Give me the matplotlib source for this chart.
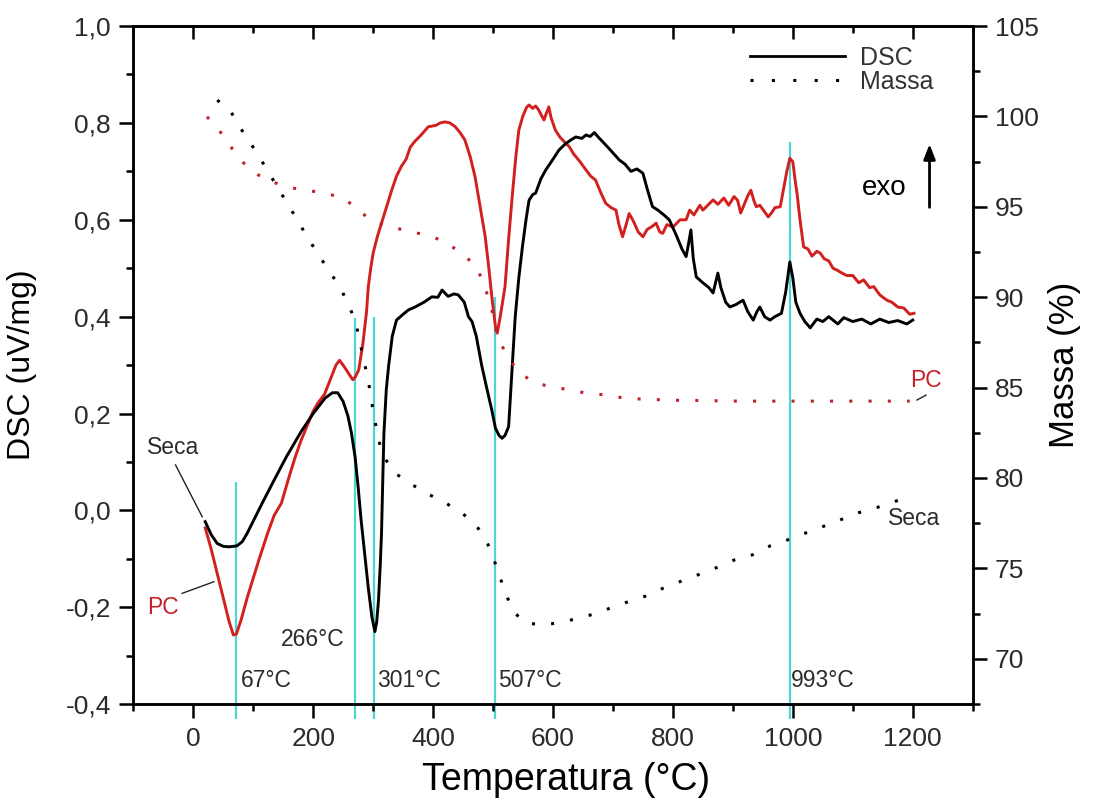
import matplotlib
matplotlib.use("Agg")
import matplotlib.pyplot as plt
from matplotlib.lines import Line2D
from matplotlib.ticker import MultipleLocator, FuncFormatter

plt.rcParams['font.family'] = ['Liberation Sans', 'DejaVu Sans']

# ---------------- data ----------------
seca_dsc_T = [20, 30, 40, 50, 60, 73, 82, 90, 100, 115, 135, 155, 180, 200, 220, 232, 241, 250, 258, 264,
              270, 275, 280, 286, 292, 298, 303, 306, 309, 312, 314, 316, 318, 322, 326, 332, 339, 350, 359,
              370, 385, 398, 408, 415, 425, 435, 442, 452, 459, 465, 472, 481, 490, 498, 504, 510, 515, 520,
              526, 532, 537, 543, 549, 555, 560, 566, 571, 580, 588, 600, 610, 620, 630, 638, 648, 655, 662,
              669, 676, 683, 695, 711, 720, 730, 740, 750, 758, 766, 775, 785, 794, 805, 815, 822, 826, 830,
              834, 839, 850, 860, 867, 875, 880, 888, 895, 905, 917, 925, 934, 940, 945, 953, 962, 970, 981,
              988, 995, 1000, 1005, 1012, 1020, 1029, 1040, 1050, 1060, 1075, 1085, 1100, 1115, 1130, 1145,
              1160, 1175, 1190, 1200]
seca_dsc_v = [-0.023, -0.05, -0.068, -0.074, -0.075, -0.073, -0.064, -0.047, -0.022, 0.015, 0.063, 0.11,
              0.163, 0.2, 0.232, 0.243, 0.243, 0.225, 0.195, 0.159, 0.11, 0.049, -0.02, -0.089, -0.16, -0.22,
              -0.25, -0.23, -0.185, -0.11, -0.047, 0.06, 0.159, 0.25, 0.3, 0.36, 0.393, 0.405, 0.414, 0.42,
              0.43, 0.441, 0.44, 0.455, 0.442, 0.447, 0.445, 0.43, 0.40, 0.39, 0.36, 0.30, 0.25, 0.207, 0.17,
              0.155, 0.149, 0.155, 0.173, 0.297, 0.40, 0.48, 0.544, 0.60, 0.64, 0.652, 0.655, 0.685, 0.703,
              0.725, 0.744, 0.756, 0.765, 0.771, 0.768, 0.775, 0.772, 0.78, 0.770, 0.761, 0.745, 0.723, 0.715,
              0.700, 0.705, 0.696, 0.66, 0.627, 0.62, 0.61, 0.6, 0.57, 0.54, 0.524, 0.55, 0.579, 0.52, 0.482,
              0.47, 0.46, 0.449, 0.49, 0.46, 0.43, 0.42, 0.425, 0.434, 0.41, 0.393, 0.41, 0.42, 0.40, 0.393,
              0.40, 0.407, 0.45, 0.513, 0.48, 0.43, 0.407, 0.39, 0.377, 0.395, 0.39, 0.40, 0.385, 0.398, 0.39,
              0.395, 0.385, 0.395, 0.388, 0.392, 0.385, 0.393]

pc_dsc_T = [20, 30, 40, 50, 60, 67, 72, 80, 90, 100, 110, 124, 135, 147, 160, 170, 180, 190, 200, 208, 219,
            230, 238, 244, 250, 258, 266, 270, 276, 283, 289, 292, 296, 300, 307, 314, 322, 331, 339, 347, 355,
            362, 369, 380, 392, 405, 412, 420, 428, 437, 445, 453, 462, 470, 478, 487, 493, 498, 504, 507, 512,
            520, 526, 532, 538, 543, 550, 556, 560, 566, 571, 576, 581, 585, 589, 593, 597, 604, 612, 620, 627,
            635, 645, 655, 663, 671, 680, 688, 697, 705, 710, 716, 722, 727, 735, 742, 750, 757, 765, 772, 778,
            783, 790, 800, 812, 822, 828, 835, 845, 850, 858, 867, 875, 885, 893, 902, 908, 913, 920, 925, 930,
            935, 939, 945, 952, 959, 965, 970, 979, 984, 990, 995, 1000, 1004, 1007, 1012, 1018, 1025, 1032,
            1040, 1046, 1052, 1060, 1067, 1074, 1082, 1090, 1100, 1110, 1118, 1128, 1135, 1145, 1157, 1165,
            1175, 1185, 1195, 1202]
pc_dsc_v = [-0.036, -0.08, -0.13, -0.18, -0.23, -0.257, -0.255, -0.225, -0.18, -0.14, -0.10, -0.047, -0.01,
            0.015, 0.07, 0.11, 0.145, 0.175, 0.205, 0.222, 0.24, 0.275, 0.30, 0.31, 0.30, 0.285, 0.27, 0.275,
            0.29, 0.345, 0.41, 0.462, 0.50, 0.531, 0.565, 0.593, 0.625, 0.661, 0.69, 0.71, 0.725, 0.75, 0.761,
            0.775, 0.792, 0.795, 0.80, 0.802, 0.80, 0.792, 0.78, 0.765, 0.73, 0.689, 0.63, 0.565, 0.50, 0.441,
            0.38, 0.366, 0.40, 0.462, 0.56, 0.648, 0.73, 0.785, 0.815, 0.832, 0.837, 0.83, 0.835, 0.827, 0.815,
            0.806, 0.82, 0.833, 0.81, 0.785, 0.77, 0.76, 0.751, 0.735, 0.72, 0.703, 0.69, 0.682, 0.655, 0.634,
            0.625, 0.62, 0.59, 0.565, 0.59, 0.613, 0.595, 0.575, 0.565, 0.58, 0.586, 0.593, 0.575, 0.572, 0.59,
            0.585, 0.6, 0.60, 0.62, 0.61, 0.63, 0.62, 0.63, 0.641, 0.632, 0.645, 0.63, 0.648, 0.64, 0.614,
            0.635, 0.65, 0.661, 0.64, 0.627, 0.63, 0.618, 0.606, 0.615, 0.625, 0.627, 0.66, 0.70, 0.727, 0.72,
            0.68, 0.655, 0.60, 0.544, 0.54, 0.525, 0.535, 0.531, 0.52, 0.515, 0.50, 0.496, 0.49, 0.485, 0.485,
            0.47, 0.476, 0.46, 0.462, 0.445, 0.434, 0.43, 0.42, 0.418, 0.405, 0.407]

seca_mass_T = [40, 62, 79, 96, 113, 130, 146, 163, 180, 197, 213, 230, 247, 261, 272, 285, 292, 297, 303,
               308, 318, 333, 361, 389, 417, 445, 469, 487, 499, 509, 521, 532, 554, 585, 613, 643, 674, 702,
               727, 758, 786, 817, 845, 875, 903, 933, 962, 991, 1020, 1050, 1079, 1110, 1140, 1169, 1199]
seca_mass_m = [100.9, 100.3, 99.34, 98.5, 97.6, 96.66, 95.78, 94.86, 93.9, 92.97, 92.14, 91.3, 90.4, 89.46,
               88.45, 86.43, 85.4, 84.3, 83.2, 82.19, 81.2, 80.35, 79.71, 79.15, 78.69, 78.14, 77.5, 76.67,
               75.75, 74.73, 73.66, 72.67, 71.97, 71.88, 72.0, 72.25, 72.52, 72.89, 73.17, 73.5, 73.94, 74.33,
               74.68, 75.07, 75.47, 75.75, 76.24, 76.57, 76.94, 77.31, 77.68, 78.08, 78.36, 78.69, 79.0]

pc_mass_T = [23, 43, 61, 79, 103, 130, 159, 188, 222, 252, 275, 300, 331, 361, 392, 420, 448, 470, 484, 498,
             507, 523, 540, 565, 596, 627, 657, 688, 722, 758, 800, 850, 911, 1000, 1100, 1195]
pc_mass_m = [99.98, 99.24, 98.4, 97.58, 96.85, 96.4, 96.07, 95.92, 95.74, 95.46, 94.82, 94.17, 93.89, 93.62,
             93.43, 93.06, 92.42, 91.77, 90.85, 89.3, 87.8, 86.8, 85.97, 85.32, 85.04, 84.88, 84.68, 84.59,
             84.40, 84.35, 84.3, 84.28, 84.25, 84.25, 84.25, 84.25]

peak_T = [71, 270, 301, 504, 995]
peak_top = [0.059, 0.397, 0.40, 0.441, 0.761]
peak_labels = ['67°C', '266°C', '301°C', '507°C', '993°C']

legend_labels = ['DSC', 'Massa']

# ---------------- style ----------------
RED = '#d21f1f'
CYAN = '#4fd6d2'
TXT = '#2b2b2b'

fig = plt.figure(figsize=(10.96, 8.10), dpi=100)
ax = fig.add_axes([0.1216, 0.1305, 0.7659, 0.8374])
ax2 = ax.twinx()

ax.set_xlim(-100, 1300)
ax.set_ylim(-0.4, 1.0)
ax2.set_ylim(67.48, 105)

# cyan markers of peak temperatures
ax.vlines(peak_T, peak_top, -0.43, colors=CYAN, lw=1.6, clip_on=False, zorder=1)

ax.plot(seca_dsc_T, seca_dsc_v, color='black', lw=2.1, zorder=3)
ax.plot(pc_dsc_T, pc_dsc_v, color=RED, lw=2.1, zorder=2)

dot = (0, (1, 5.3))
ax2.plot(seca_mass_T, seca_mass_m, color='black', lw=2.2, linestyle=dot)
ax2.plot(pc_mass_T, pc_mass_m, color='#c0222e', lw=2.2, linestyle=dot)

# peak labels
lab_pos_T = [80, 146, 307, 509, 996]
lab_pos_v = [-0.35, -0.266, -0.35, -0.35, -0.35]
for t, v, s in zip(lab_pos_T, lab_pos_v, peak_labels):
    ax.text(t, v, s, fontsize=16.5, color=TXT, ha='left', va='center')

# annotations
ax.text(-33, 0.129, 'Seca', fontsize=16.5, color=TXT, ha='center', va='center')
ax.plot([-29.5, 15], [0.094, -0.013], color='#222222', lw=1.0)
ax.text(-51, -0.201, 'PC', fontsize=16.5, color='#c8202a', ha='center', va='center')
ax.plot([-18.4, 34.5], [-0.171, -0.147], color='#222222', lw=1.0)
ax.text(1222, 0.269, 'PC', fontsize=16.5, color='#c8202a', ha='center', va='center')
ax.plot([1207, 1222], [0.228, 0.238], color='#222222', lw=1.0)
ax.text(1202, -0.016, 'Seca', fontsize=16.5, color=TXT, ha='center', va='center')

# exo arrow
ax.annotate('', xy=(1228, 0.762), xytext=(1228, 0.62),
            arrowprops=dict(arrowstyle='-|>,head_length=0.9,head_width=0.35', color='black', lw=2.0))
ax.text(1190, 0.666, 'exo', fontsize=20, color='black', ha='right', va='center')

# legend
handles = [Line2D([], [], color='black', lw=2.0),
           Line2D([], [], color='black', lw=2.2, linestyle=(0, (1, 6)))]
leg = ax.legend(handles, legend_labels, loc='upper right', bbox_to_anchor=(0.965, 0.985), frameon=False,
                fontsize=18, handlelength=3.8, handletextpad=0.6, labelspacing=0.0, borderaxespad=0.0)
for t in leg.get_texts():
    t.set_color('#333333')

# axes styling
for a in (ax, ax2):
    for sp in a.spines.values():
        sp.set_linewidth(1.8)

ax.xaxis.set_major_locator(MultipleLocator(200))
ax.xaxis.set_minor_locator(MultipleLocator(100))
ax.yaxis.set_major_locator(MultipleLocator(0.2))
ax.yaxis.set_minor_locator(MultipleLocator(0.1))
ax2.yaxis.set_major_locator(MultipleLocator(5))
ax2.yaxis.set_minor_locator(MultipleLocator(2.5))

ax.yaxis.set_major_formatter(FuncFormatter(lambda v, p: f'{v:.1f}'.replace('.', ',').replace('-0,0', '0,0')))

ax.tick_params(axis='both', which='major', direction='out', length=10, width=1.8,
               labelsize=19, labelcolor=TXT, pad=6)
ax.tick_params(axis='both', which='minor', direction='out', length=5, width=1.8)
ax2.tick_params(axis='y', which='major', direction='out', length=10, width=1.8,
                labelsize=19, labelcolor=TXT, pad=6)
ax2.tick_params(axis='y', which='minor', direction='out', length=5, width=1.8)

sec = ax.secondary_xaxis('top')
sec.xaxis.set_major_locator(MultipleLocator(200))
sec.xaxis.set_minor_locator(MultipleLocator(100))
sec.tick_params(axis='x', which='major', direction='in', length=9, width=1.8, labeltop=False)
sec.tick_params(axis='x', which='minor', direction='in', length=5, width=1.8)
sec.spines['top'].set_linewidth(1.8)

ax.set_xlabel('Temperatura (°C)', fontsize=27, color='black')
ax.xaxis.set_label_coords(0.515, -0.085)
ax.set_ylabel('DSC (uV/mg)', fontsize=23, color='black')
ax.yaxis.set_label_coords(-0.115, 0.5)
ax2.set_ylabel('Massa (%)', fontsize=25, color='black')
ax2.yaxis.set_label_coords(1.09, 0.5)

fig.savefig('out.png', dpi=100)
